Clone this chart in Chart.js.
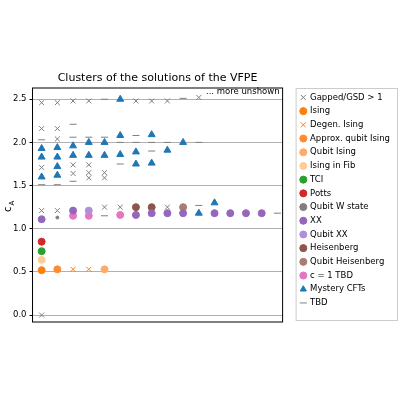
<!DOCTYPE html>
<html><head><meta charset="utf-8">
<script src="https://cdn.jsdelivr.net/npm/chart.js@4"></script>
<style>body{margin:0;background:#fff}#wrap{width:400px;height:400px}</style>
</head><body><div id="wrap"><canvas id="c"></canvas></div>
<script>
// each series: [column, c_A] pairs
const gapped = [[0,2.46],[0,2.16],[0,1.71],[0,1.21],[0,0.0],[1,2.46],[1,2.16],[1,2.04],[1,1.21],
  [2,2.48],[2,1.74],[2,1.64],[3,2.48],[3,1.74],[3,1.65],[3,1.59],[4,1.65],[4,1.59],[4,1.25],
  [5,1.25],[6,2.48],[7,2.48],[8,2.48],[8,1.25],[10,2.52]];
const ising = [[0,0.52]];
const degenIsing = [[2,0.53],[3,0.53]];
const approxQubitIsing = [[1,0.53]];
const qubitIsing = [[4,0.53]];
const isingFib = [[0,0.64]];
const tci = [[0,0.74]];
const potts = [[0,0.85]];
const wState = [[1,1.13]];
const xx = [[0,1.11],[2,1.21],[6,1.16],[7,1.18],[8,1.18],[9,1.18],[11,1.18],[12,1.18],[13,1.18],[14,1.18]];
const qubitXX = [[3,1.21]];
const heisenberg = [[6,1.25],[7,1.25]];
const qubitHeisenberg = [[9,1.25]];
const c1tbd = [[2,1.15],[3,1.15],[5,1.16]];
const mystery = [[0,1.93],[0,1.83],[0,1.60],[1,1.94],[1,1.83],[1,1.72],[1,1.62],[2,1.96],[2,1.85],
  [3,2.0],[3,1.85],[4,2.0],[4,1.85],[5,2.5],[5,2.08],[5,1.86],[6,1.89],[6,1.75],[7,2.09],[7,1.76],
  [8,1.91],[9,2.0],[10,1.18],[11,1.30]];
const tbd = [[0,2.03],[0,1.51],[1,1.51],[2,2.21],[2,2.06],[2,1.55],[3,2.06],[4,2.5],[4,2.06],[4,1.15],
  [5,2.0],[5,1.75],[6,2.08],[6,2.0],[7,2.0],[7,1.9],[8,2.0],[9,2.51],[10,2.0],[10,1.27],[15,1.18]];
const yTicks = [0, 0.5, 1.0, 1.5, 2.0, 2.5];

const pts = a => a.map(p => ({x: p[0], y: p[1]}));
const ds = (label, data, color, style, r) => ({
  label, data: pts(data), backgroundColor: color, borderColor: color,
  pointStyle: style, pointRadius: r, pointBorderWidth: 1, pointHoverRadius: r
});

const frame = {
  id: 'frame',
  afterDraw(chart) {
    const c = chart.ctx, a = chart.chartArea, y = chart.scales.y;
    c.save();
    c.strokeStyle = '#000'; c.lineWidth = 1;
    c.strokeRect(a.left, a.top, a.right - a.left, a.bottom - a.top);
    c.fillStyle = '#000';
    c.font = '11px "DejaVu Sans"'; c.textAlign = 'center';
    c.fillText('Clusters of the solutions of the VFPE', (a.left + a.right) / 2, a.top - 7);
    c.font = '8.5px "DejaVu Sans"'; c.textAlign = 'right';
    c.fillText('... more unshown', a.right - 3, y.getPixelForValue(2.56));
    // y-axis label c_A
    c.translate(8, y.getPixelForValue(1.25));
    c.rotate(-Math.PI / 2);
    c.textAlign = 'center';
    c.font = '10px "DejaVu Sans"'; c.fillText('c', -2, 3);
    c.font = '7px "DejaVu Sans"'; c.fillText('A', 4, 6);
    c.restore();
    // legend frame
    const l = chart.legend;
    c.save(); c.strokeStyle = '#ccc';
    c.strokeRect(l.left + 0.5, l.top + 0.5, l.width - 3, l.height - 2);
    c.restore();
  }
};

new Chart(document.getElementById('c'), {
  type: 'scatter',
  data: { datasets: [
    ds('Gapped/GSD > 1', gapped, '#7f7f7f', 'crossRot', 3.5),
    ds('Ising', ising, '#ff7f0e', 'circle', 3.5),
    ds('Degen. Ising', degenIsing, '#ff7f0e', 'crossRot', 3.5),
    ds('Approx. qubit Ising', approxQubitIsing, '#ff8c33', 'circle', 3.5),
    ds('Qubit Ising', qubitIsing, '#ffab66', 'circle', 3.5),
    ds('Ising in Fib', isingFib, '#ffcc99', 'circle', 3.5),
    ds('TCI', tci, '#2ca02c', 'circle', 3.5),
    ds('Potts', potts, '#d62728', 'circle', 3.5),
    ds('Qubit W state', wState, '#7f7f7f', 'circle', 1.5),
    ds('XX', xx, '#9467bd', 'circle', 3.5),
    ds('Qubit XX', qubitXX, '#b08fd6', 'circle', 3.5),
    ds('Heisenberg', heisenberg, '#8c564b', 'circle', 3.5),
    ds('Qubit Heisenberg', qubitHeisenberg, '#a87c71', 'circle', 3.5),
    ds('c = 1 TBD', c1tbd, '#e377c2', 'circle', 3.5),
    ds('Mystery CFTs', mystery, '#1f77b4', 'triangle', 4),
    ds('TBD', tbd, '#7f7f7f', 'line', 3.5)
  ]},
  options: {
    responsive: true, maintainAspectRatio: false, animation: false,
    layout: { padding: { top: 88, bottom: 78, left: 10, right: 0 } },
    scales: {
      x: { display: false, min: -0.58, max: 15.33 },
      y: { min: -0.08, max: 2.63, border: { display: false },
        afterBuildTicks: s => { s.ticks = yTicks.map(v => ({ value: v })); },
        ticks: { color: '#000', font: { size: 8.5, family: 'DejaVu Sans' }, callback: v => v.toFixed(1) },
        grid: { color: '#b0b0b0', drawTicks: true, tickLength: 3, tickColor: '#000' } },
      // empty spacer between plot and legend
      gap: { axis: 'y', position: 'right', display: true, min: 0, max: 1,
        ticks: { display: false }, grid: { display: false }, border: { display: false },
        afterFit: s => { s.width = 13; } }
    },
    plugins: {
      title: { display: false },
      tooltip: { enabled: false },
      legend: { position: 'right', align: 'start', maxWidth: 120,
        labels: { usePointStyle: true, boxWidth: 5, boxHeight: 5, padding: 5.2, color: '#000',
          font: { size: 8.5, family: 'DejaVu Sans' },
          generateLabels: chart => Chart.defaults.plugins.legend.labels.generateLabels(chart)
            .map(l => Object.assign(l, { pointStyleWidth: 7 })) } }
    }
  },
  plugins: [frame]
});
</script></body></html>
